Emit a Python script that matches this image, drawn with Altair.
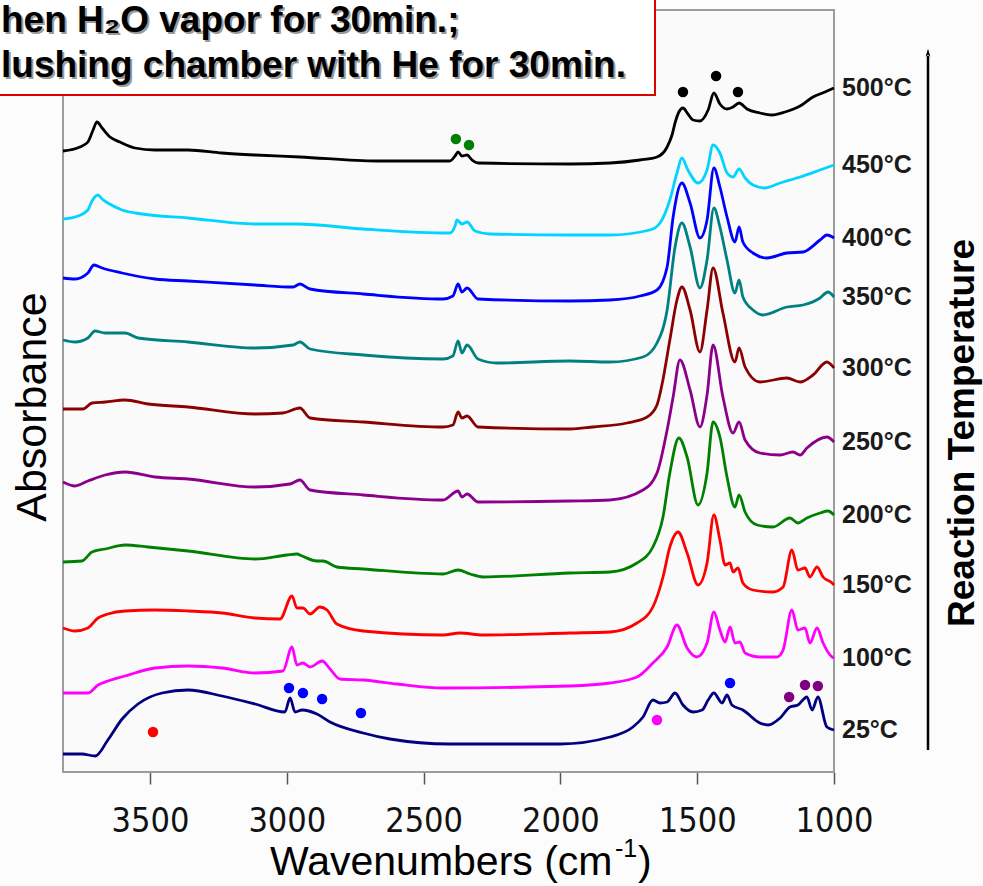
import altair as alt
import pandas as pd

# ---------------- data ----------------
temps = ["500°C", "450°C", "400°C", "350°C", "300°C", "250°C", "200°C", "150°C", "100°C", "25°C"]
colors = ["#000000", "#00d4ff", "#0000ff", "#008080", "#8b0000", "#8b008b",
          "#008000", "#ff0000", "#ff00ff", "#000080"]

w500 = [3818, 3756, 3727, 3708, 3694, 3675, 3646, 3610, 3555, 3482, 3361, 3237, 3116, 2952, 2670, 2404,
        2385, 2374, 2360, 2341, 2323, 2301, 1965, 1819, 1709, 1647, 1610, 1592, 1581, 1567, 1552, 1534,
        1515, 1490, 1460, 1439, 1417, 1391, 1369, 1347, 1318, 1271, 1227, 1179, 1124, 1077, 1033, 1000]
a500 = [6.21, 6.25, 6.30, 6.42, 6.50, 6.44, 6.35, 6.30, 6.24, 6.22, 6.22, 6.19, 6.17, 6.15, 6.11, 6.11,
        6.16, 6.20, 6.16, 6.17, 6.12, 6.09, 6.08, 6.09, 6.12, 6.15, 6.25, 6.37, 6.49, 6.60, 6.64, 6.58,
        6.52, 6.51, 6.62, 6.79, 6.68, 6.63, 6.65, 6.69, 6.63, 6.59, 6.57, 6.60, 6.66, 6.75, 6.80, 6.84]

w450 = [3818, 3774, 3727, 3712, 3690, 3675, 3654, 3602, 3529, 3361, 3116, 2963, 2721, 2404, 2385, 2378,
        2360, 2341, 2312, 2257, 1965, 1819, 1673, 1636, 1600, 1574, 1556, 1534, 1497, 1464, 1442, 1417,
        1391, 1369, 1347, 1325, 1296, 1252, 1197, 1124, 1051, 1000]
a450 = [5.53, 5.55, 5.62, 5.71, 5.77, 5.73, 5.69, 5.62, 5.58, 5.54, 5.48, 5.48, 5.43, 5.39, 5.46, 5.52,
        5.48, 5.50, 5.41, 5.38, 5.37, 5.37, 5.42, 5.49, 5.72, 5.99, 6.14, 6.02, 5.89, 6.02, 6.27, 6.19,
        5.99, 5.95, 6.03, 5.94, 5.87, 5.84, 5.89, 5.95, 6.02, 6.07]

w400 = [3818, 3774, 3727, 3705, 3675, 3602, 3482, 3361, 3116, 2977, 2952, 2915, 2721, 2429, 2393, 2374,
        2360, 2341, 2301, 1965, 1819, 1709, 1647, 1610, 1588, 1556, 1526, 1490, 1464, 1439, 1417, 1391,
        1362, 1347, 1333, 1296, 1245, 1172, 1113, 1051, 1026, 1000]
a400 = [4.94, 4.93, 4.99, 5.07, 5.04, 4.99, 4.93, 4.91, 4.87, 4.85, 4.88, 4.83, 4.78, 4.73, 4.76, 4.88,
        4.80, 4.84, 4.73, 4.71, 4.72, 4.76, 4.82, 5.05, 5.55, 5.89, 5.69, 5.34, 5.52, 6.04, 5.85, 5.55,
        5.30, 5.45, 5.30, 5.19, 5.14, 5.19, 5.20, 5.32, 5.37, 5.34]

w350 = [3818, 3774, 3727, 3701, 3664, 3591, 3544, 3361, 3116, 2977, 2952, 2915, 2721, 2429, 2393, 2374,
        2360, 2341, 2301, 2232, 1965, 1819, 1698, 1647, 1610, 1581, 1556, 1526, 1490, 1464, 1439, 1417,
        1391, 1362, 1347, 1333, 1296, 1260, 1172, 1113, 1051, 1022, 1000]
a350 = [4.32, 4.30, 4.34, 4.41, 4.39, 4.39, 4.34, 4.30, 4.24, 4.27, 4.30, 4.23, 4.17, 4.13, 4.16, 4.31,
        4.19, 4.27, 4.13, 4.09, 4.11, 4.10, 4.15, 4.29, 4.62, 5.25, 5.49, 5.25, 4.84, 5.12, 5.64, 5.45,
        5.12, 4.79, 4.92, 4.75, 4.62, 4.57, 4.65, 4.67, 4.74, 4.80, 4.75]

w300 = [3818, 3745, 3712, 3664, 3591, 3507, 3361, 3116, 3014, 2952, 2915, 2721, 2429, 2393, 2374, 2360,
        2341, 2301, 1965, 1881, 1757, 1683, 1647, 1629, 1600, 1574, 1556, 1526, 1490, 1464, 1442, 1406,
        1362, 1347, 1325, 1271, 1172, 1124, 1077, 1026, 1000]
a300 = [3.63, 3.63, 3.69, 3.70, 3.72, 3.68, 3.65, 3.58, 3.59, 3.64, 3.54, 3.50, 3.45, 3.47, 3.60, 3.54,
        3.56, 3.45, 3.43, 3.45, 3.49, 3.55, 3.67, 3.87, 4.32, 4.72, 4.85, 4.62, 4.20, 4.62, 5.04, 4.59,
        4.10, 4.24, 4.05, 3.90, 3.94, 3.90, 3.97, 4.10, 4.04]

w250 = [3818, 3774, 3727, 3664, 3591, 3482, 3361, 3116, 2988, 2952, 2915, 2721, 2429, 2374, 2360, 2341,
        2301, 1965, 1819, 1698, 1647, 1610, 1588, 1563, 1526, 1490, 1464, 1442, 1406, 1369, 1347, 1325,
        1271, 1197, 1150, 1124, 1099, 1026, 1000]
a250 = [2.90, 2.86, 2.91, 2.97, 3.00, 2.95, 2.93, 2.85, 2.88, 2.92, 2.82, 2.77, 2.72, 2.81, 2.75, 2.78,
        2.70, 2.71, 2.72, 2.82, 2.99, 3.42, 3.75, 4.12, 3.82, 3.45, 3.77, 4.27, 3.75, 3.39, 3.50, 3.32,
        3.19, 3.17, 3.20, 3.17, 3.24, 3.35, 3.30]

w200 = [3818, 3749, 3712, 3664, 3591, 3507, 3361, 3116, 3000, 2963, 2944, 2890, 2868, 2817, 2721, 2429,
        2374, 2330, 2283, 1965, 1819, 1720, 1662, 1625, 1600, 1567, 1537, 1497, 1464, 1442, 1417, 1391,
        1362, 1347, 1325, 1281, 1223, 1161, 1132, 1099, 1051, 1022, 1000]
a200 = [2.10, 2.11, 2.20, 2.23, 2.27, 2.25, 2.21, 2.13, 2.17, 2.18, 2.16, 2.11, 2.11, 2.05, 2.03, 1.98,
        2.02, 1.98, 1.95, 1.99, 2.00, 2.09, 2.25, 2.55, 2.99, 3.34, 3.15, 2.67, 2.99, 3.50, 3.35, 2.95,
        2.65, 2.77, 2.60, 2.47, 2.45, 2.54, 2.49, 2.54, 2.59, 2.61, 2.57]

w150 = [3818, 3774, 3727, 3690, 3654, 3591, 3482, 3361, 3237, 3116, 3025, 2981, 2963, 2941, 2915, 2879,
        2853, 2817, 2721, 2429, 2367, 2283, 1965, 1819, 1720, 1662, 1625, 1600, 1570, 1537, 1497, 1464,
        1439, 1417, 1398, 1380, 1369, 1351, 1333, 1296, 1223, 1186, 1154, 1132, 1106, 1088, 1062, 1040,
        1007, 1000]
a150 = [1.44, 1.41, 1.44, 1.54, 1.58, 1.61, 1.62, 1.61, 1.59, 1.54, 1.53, 1.76, 1.64, 1.64, 1.58, 1.65,
        1.62, 1.48, 1.41, 1.37, 1.39, 1.37, 1.39, 1.40, 1.49, 1.65, 1.95, 2.25, 2.40, 2.19, 1.87, 2.09,
        2.57, 2.32, 2.07, 2.09, 2.00, 2.04, 1.89, 1.82, 1.80, 1.85, 2.22, 2.02, 2.04, 1.95, 2.05, 1.95,
        1.89, 1.87]

w100 = [3818, 3727, 3690, 3654, 3591, 3482, 3361, 3237, 3116, 3014, 2981, 2963, 2941, 2915, 2871, 2842,
        2806, 2721, 2597, 2429, 1965, 1819, 1720, 1662, 1610, 1574, 1537, 1501, 1464, 1439, 1417, 1398,
        1380, 1362, 1344, 1325, 1271, 1208, 1186, 1154, 1132, 1106, 1088, 1062, 1040, 1007, 1000]
a100 = [0.79, 0.79, 0.87, 0.91, 0.96, 1.04, 1.06, 1.04, 0.99, 1.01, 1.25, 1.07, 1.09, 1.05, 1.11, 1.03,
        0.93, 0.92, 0.88, 0.84, 0.86, 0.89, 0.95, 1.09, 1.25, 1.47, 1.24, 1.15, 1.29, 1.60, 1.42, 1.30,
        1.45, 1.29, 1.30, 1.19, 1.15, 1.15, 1.22, 1.62, 1.42, 1.44, 1.29, 1.44, 1.29, 1.15, 1.14]

w25 = [3818, 3749, 3700, 3654, 3602, 3544, 3456, 3361, 3237, 3116, 3007, 2988, 2970, 2944, 2890, 2842,
       2721, 2623, 2404, 2001, 1819, 1735, 1698, 1662, 1636, 1610, 1581, 1552, 1515, 1482, 1460, 1439,
       1409, 1391, 1373, 1333, 1271, 1241, 1197, 1161, 1132, 1099, 1080, 1059, 1026, 1000]
a25 = [0.18, 0.18, 0.16, 0.32, 0.53, 0.68, 0.79, 0.82, 0.76, 0.68, 0.60, 0.74, 0.60, 0.62, 0.58, 0.50,
       0.39, 0.33, 0.28, 0.28, 0.35, 0.45, 0.55, 0.72, 0.69, 0.70, 0.79, 0.67, 0.60, 0.62, 0.72, 0.79,
       0.69, 0.77, 0.67, 0.62, 0.49, 0.47, 0.54, 0.65, 0.67, 0.75, 0.62, 0.75, 0.45, 0.42]

# band-assignment markers
dot_w = [1552, 1431, 1351, 2382, 2334, 3489, 2992, 2941, 2871, 2729, 1647, 1380, 1164, 1106, 1059]
dot_a = [6.80, 6.96, 6.80, 6.33, 6.27, 0.40, 0.84, 0.79, 0.73, 0.59, 0.52, 0.89, 0.75, 0.87, 0.86]
dot_c = ["#000000", "#000000", "#000000", "#008000", "#008000", "#ff0000", "#0000ff", "#0000ff",
         "#0000ff", "#0000ff", "#ff00ff", "#0000ff", "#800080", "#800080", "#800080"]

x_ticks = [3500, 3000, 2500, 2000, 1500, 1000]

# ---------------- tables ----------------
all_w = [w500, w450, w400, w350, w300, w250, w200, w150, w100, w25]
all_a = [a500, a450, a400, a350, a300, a250, a200, a150, a100, a25]
rows = []
for name, ws, As in zip(temps, all_w, all_a):
    assert len(ws) == len(As), name
    for w, a in zip(ws, As):
        rows.append({"series": name, "w": w, "a": a})
lines_df = pd.DataFrame(rows)

label_df = (lines_df.sort_values("w").groupby("series", sort=False).first().reset_index())
dots_df = pd.DataFrame({"w": dot_w, "a": dot_a, "c": dot_c})
ann = pd.DataFrame({"k": [0]})

# ---------------- chart ----------------
PW, PH = 771, 762
FONT = "Liberation Sans, Arial, sans-serif"
xs = alt.Scale(domain=[1000, 3818], reverse=True, nice=False, zero=False)
ys = alt.Scale(domain=[0, 7.62], nice=False, zero=False)
xaxis = alt.Axis(values=x_ticks, format="d", title=None, grid=False, domain=False,
                 labelFont="Liberation Sans Narrow, DejaVu Sans Condensed, Liberation Sans",
                 labelFontSize=34, labelColor="#111111", labelPadding=20,
                 labelFlush=False, labelOverlap=False,
                 tickSize=12, tickColor="#555555", tickWidth=1.5)
X = alt.X("w:Q", scale=xs, axis=xaxis)
Y = alt.Y("a:Q", scale=ys, axis=None)

frame = alt.Chart(ann).mark_rect(fillOpacity=0, stroke="#9c9c9c", strokeWidth=2).encode(
    x=alt.value(0), x2=alt.value(PW), y=alt.value(0), y2=alt.value(PH))

lines = alt.Chart(lines_df).mark_line(strokeWidth=2.8, strokeJoin="round",
                                      interpolate="monotone").encode(
    x=X, y=Y,
    color=alt.Color("series:N", scale=alt.Scale(domain=temps, range=colors), legend=None))

dots = alt.Chart(dots_df).mark_point(filled=True, size=110, opacity=1, strokeWidth=0).encode(
    x=X, y=Y, fill=alt.Fill("c:N", scale=None))

labels = alt.Chart(label_df).mark_text(align="left", baseline="middle", font=FONT, fontSize=25,
                                       fontWeight="bold", color="#1a1a1a").encode(
    x=alt.value(779), y=Y, text="series:N")


def txt(s, x, y, size, weight="normal", color="#000000", angle=0, align="left",
        baseline="alphabetic"):
    return alt.Chart(ann).mark_text(text=s, font=FONT, fontSize=size, fontWeight=weight,
                                    color=color, angle=angle, align=align,
                                    baseline=baseline).encode(x=alt.value(x), y=alt.value(y))


arrow_line = alt.Chart(ann).mark_rule(strokeWidth=2.5, color="#000000").encode(
    x=alt.value(865), y=alt.value(740), y2=alt.value(46))
arrow_head = alt.Chart(ann).mark_point(shape="M0,-1L-0.45,0.5L0,0.2L0.45,0.5Z", filled=True,
                                       size=110, color="#000000", opacity=1).encode(
    x=alt.value(865), y=alt.value(44))

box = alt.Chart(ann).mark_rect(fill="#ffffff", stroke="#e00000", strokeWidth=2).encode(
    x=alt.value(-90), x2=alt.value(592), y=alt.value(-30), y2=alt.value(85))

layers = [
    frame, lines, dots, labels, arrow_line, arrow_head,
    txt("Absorbance", -30, 397, 43, angle=270, align="center", baseline="middle"),
    txt("Reaction Temperature", 900, 423, 37, weight="bold", angle=270, align="center",
        baseline="middle"),
    txt("Wavenumbers (cm", 207, 865, 41),
    txt("-1", 552, 847, 25),
    txt(")", 575, 865, 41),
    box,
    txt("hen H₂O vapor for 30min.;", -60, 24, 37, weight="bold", color="#9a9a9a"),
    txt("hen H₂O vapor for 30min.;", -62, 22, 37, weight="bold"),
    txt("lushing chamber with He for 30min.", -60, 69, 37, weight="bold", color="#9a9a9a"),
    txt("lushing chamber with He for 30min.", -62, 67, 37, weight="bold"),
]

chart = alt.layer(*layers).properties(
    width=PW, height=PH,
    padding={"left": 63, "top": 10, "right": 149, "bottom": 114},
    autosize=alt.AutoSizeParams(type="none"),
    background="#fcfcfc",
).configure_view(fill="#fafafa", strokeWidth=0)

chart.save("out.html", embed_options={"renderer": "svg", "actions": False})
